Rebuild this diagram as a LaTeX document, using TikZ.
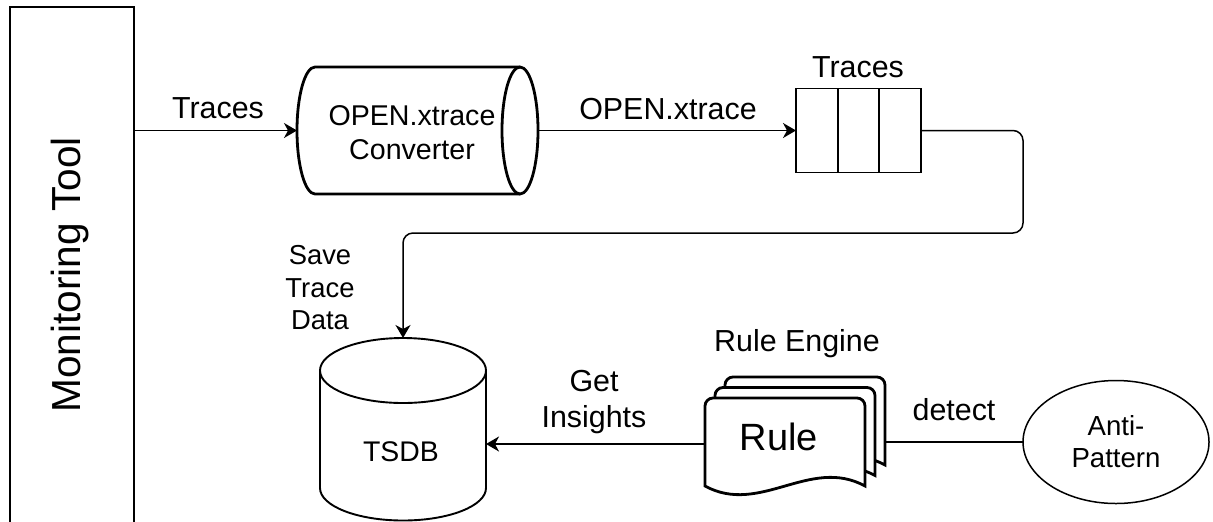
\documentclass[tikz,border=0pt]{standalone}
\usepackage{fontspec}
\setmainfont{Liberation Sans}
\usetikzlibrary{arrows.meta,shapes.geometric}

\begin{document}
\begin{tikzpicture}[x=0.5pt,y=-0.5pt,
  edge/.style={line width=0.75pt},
  heavy/.style={line width=1.4pt},
  dbline/.style={line width=0.95pt},
  arr/.style={edge,-{Stealth[length=6.5pt,width=7.5pt,inset=2pt]}},
  lbl/.style={font=\fontsize{15.2}{18}\selectfont,align=center,inner sep=0pt},
  ghost/.style={inner sep=0pt,outer sep=0pt}]
\useasboundingbox (0,0) rectangle (1213,521);
\clip (0,0) rectangle (1213,521);

% monitoring tool column
\node[draw,edge,ghost,minimum width=62pt,minimum height=266.5pt] (mon) at (72,273.5) {};
\node[font=\fontsize{20.3}{24}\selectfont,inner sep=0pt,rotate=90] (montxt) at (70,275) {Monitoring Tool};

% converter (horizontal cylinder)
\node[ghost,minimum width=120.5pt,minimum height=63.5pt] (conv) at (417.5,130.5) {};
\draw[heavy] (520,130.5) ellipse [x radius=9pt,y radius=31.75pt];
\draw[heavy] (520,67) -- (315,67)
  arc[start angle=90,end angle=270,x radius=9pt,y radius=31.75pt] -- (520,194);
\node[lbl,font=\fontsize{14.3}{17}\selectfont] (convtxt) at (412,133) {OPEN.xtrace\\Converter};

% trace queue
\node[draw,edge,ghost,minimum width=62.5pt,minimum height=42pt] (queue) at (858.5,130.5) {};
\draw[edge] (838,88.5) -- (838,172.5);
\draw[edge] (879,88.5) -- (879,172.5);
\node[lbl] (queuelbl) at (858,67) {Traces};

% time series database
\node[ghost,minimum width=83pt,minimum height=91pt] (tsdb) at (403,429) {};
\draw[dbline] (403,370.5) ellipse [x radius=41.5pt,y radius=16.25pt];
\draw[dbline] (320,370.5) -- (320,488)
  arc[start angle=180,end angle=360,x radius=41.5pt,y radius=16.25pt] -- (486,370.5);
\node[font=\fontsize{14.2}{17}\selectfont,inner sep=0pt] (tsdbtxt) at (401,452) {TSDB};

% rule engine: stacked pages
\foreach \dx/\dy in {20/-21,10/-10.5,0/0} {
  \begin{scope}[shift={(705+\dx,398+\dy)}]
    \draw[heavy,fill=white] (0,88) -- (0,8) .. controls (0,3.6) and (3.6,0) .. (8,0)
      -- (152,0) .. controls (156.4,0) and (160,3.6) .. (160,8) -- (160,88)
      .. controls (105,58) and (55,118) .. (0,88) -- cycle;
  \end{scope}
}
\node[ghost,minimum width=80pt,minimum height=46pt] (rule) at (785,444) {};
\node[font=\fontsize{19}{22}\selectfont,inner sep=0pt] (ruletxt) at (779,437) {Rule};
\node[lbl] (enginelbl) at (797,344) {Rule Engine};
\coordinate (ruleout) at (885,442);

% anti-pattern
\node[draw,edge,ellipse,ghost,minimum width=93pt,minimum height=61.5pt,
  font=\fontsize{13.8}{16}\selectfont,align=center] (anti) at (1116,442) {Anti-\\Pattern};

% connectors
\draw[arr] (mon.east |- conv.west) -- (conv.west);
\node[lbl] (l1) at (218,108) {Traces};
\draw[arr] (conv.east) -- (queue.west);
\node[lbl] (l2) at (668,109) {OPEN.xtrace};
\draw[arr,rounded corners=5pt] (queue.east) -| (1023,233) -| (tsdb.north);
\node[lbl,font=\fontsize{13.7}{16.25}\selectfont] (l3) at (320,288) {Save\\Trace\\Data};
\draw[arr] (rule.west) -- (rule.west -| tsdb.east);
\node[lbl] (l4) at (594,402) {Get\\Insights};
\draw[edge] (ruleout) -- (anti.west);
\node[lbl] (l5) at (954,410) {detect};
\end{tikzpicture}
\end{document}
